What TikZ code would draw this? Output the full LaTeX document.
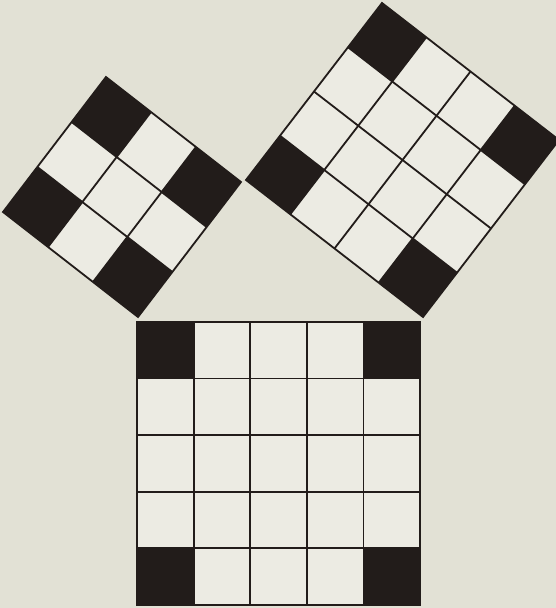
\documentclass[tikz,border=0pt]{standalone}
\usetikzlibrary{calc}
\definecolor{paper}{HTML}{E2E1D5}
\definecolor{cellwhite}{HTML}{ECEBE3}
\definecolor{ink}{HTML}{221C1A}
\tikzset{gridline/.style={draw=ink,line width=1.8pt,line join=miter},
  darkcell/.style={fill=ink}}
% n x n tiled square in the current (skewed) unit vectors, dark corner cells
\newcommand\tiledsquare[1]{%
  \pgfmathtruncatemacro\lastcell{#1-1}
  \fill[cellwhite] (0,0)--(#1,0)--(#1,#1)--(0,#1)--cycle;
  \foreach \cx in {0,\lastcell} \foreach \cy in {0,\lastcell}
    \fill[darkcell] (\cx,\cy)--++(1,0)--++(0,1)--++(-1,0)--cycle;
  \foreach \i in {1,...,\lastcell} {
    \draw[gridline] (\i,0)--(\i,#1);
    \draw[gridline] (0,\i)--(#1,\i);
  }
  \draw[gridline] (0,0)--(#1,0)--(#1,#1)--(0,#1)--cycle;
}
\begin{document}
\begin{tikzpicture}[x=1pt,y=1pt]
\fill[paper] (0,0) rectangle (556,608);
\useasboundingbox (0,0) rectangle (556,608);
% square on the short leg (3 x 3)
\begin{scope}[shift={(3pt,396pt)},x={(34.33pt,45pt)},y={(45pt,-35pt)}]
  \tiledsquare{3}
\end{scope}
% square on the long leg (4 x 4)
\begin{scope}[shift={(246pt,428pt)},x={(34pt,44.25pt)},y={(44.25pt,-34.25pt)}]
  \tiledsquare{4}
\end{scope}
% square on the hypotenuse (5 x 5)
\begin{scope}[shift={(137pt,286pt)},x={(56.6pt,0pt)},y={(0pt,-56.6pt)}]
  \tiledsquare{5}
\end{scope}
\end{tikzpicture}
\end{document}
